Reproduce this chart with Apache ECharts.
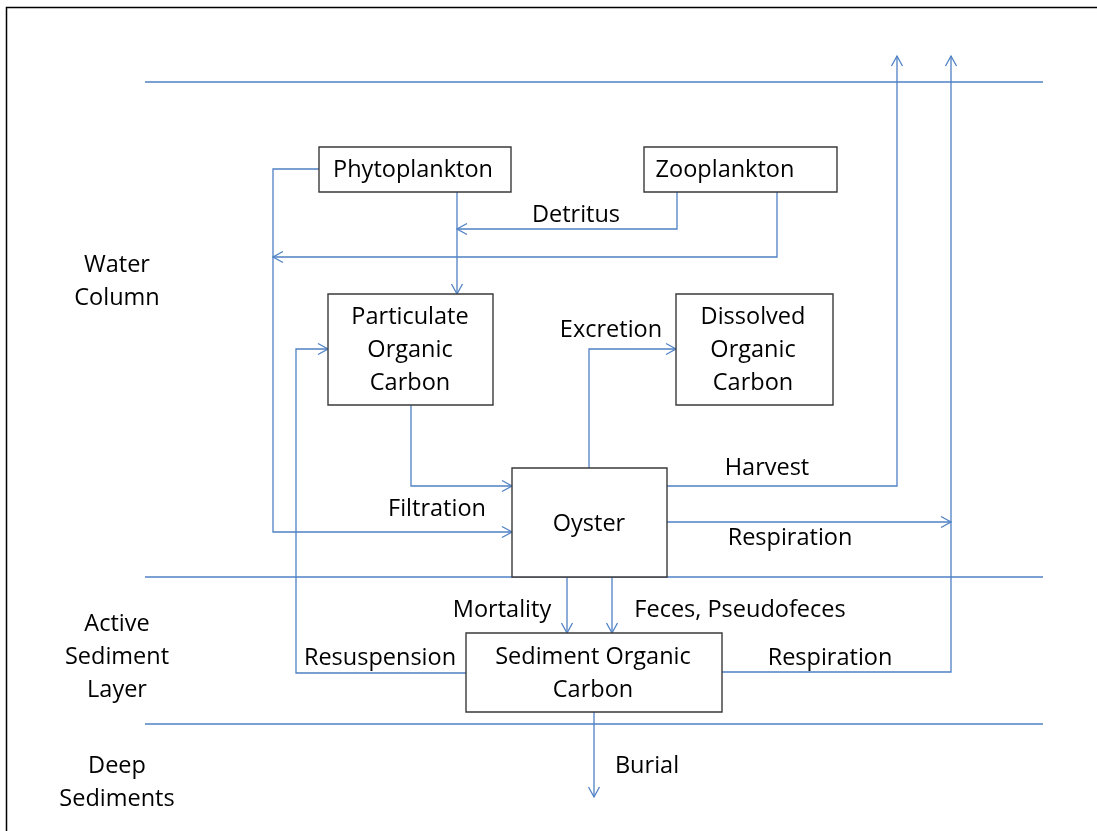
<!DOCTYPE html>
<html>
<head>
<meta charset="utf-8">
<script src="https://cdn.jsdelivr.net/npm/echarts@6/dist/echarts.min.js"></script>
<style>
  html, body { margin: 0; padding: 0; background: #fff; }
  #chart { width: 1097px; height: 831px; }
</style>
</head>
<body>
<div id="chart"></div>
<script>
// compartments: label, [x0, y0, x1, y1] in picture units, text centre
const boxLabels = ['Phytoplankton', 'Zooplankton', 'Particulate\nOrganic\nCarbon', 'Dissolved\nOrganic\nCarbon', 'Oyster', 'Sediment Organic\nCarbon'];
const boxCorners = [[319, 147, 511, 192], [644, 147, 837, 192], [328, 294, 493, 405], [676, 294, 833, 405], [512, 468, 667, 577], [466, 633, 722, 712]];
const boxTextAt = [[413, 170], [725, 170], [410, 350], [753, 350], [589, 524], [593, 674]];

// flows between compartments (polyline vertices, arrow at the last one)
const flowPaths = [
    [[319, 169], [273, 169], [273, 532], [512, 532]],
    [[777, 192], [777, 257], [273, 257]],
    [[677, 192], [677, 229], [457, 229]],
    [[457, 192], [457, 294]],
    [[411, 405], [411, 486], [512, 486]],
    [[589, 468], [589, 349], [676, 349]],
    [[667, 486], [897, 486], [897, 56]],
    [[667, 522], [951, 522]],
    [[722, 672], [951, 672], [951, 56]],
    [[567, 577], [567, 633]],
    [[612, 577], [612, 633]],
    [[466, 673], [296, 673], [296, 349], [328, 349]],
    [[594, 712], [594, 797]]
];
const flowLabels = ['Detritus', 'Excretion', 'Harvest', 'Filtration', 'Respiration', 'Mortality', 'Feces, Pseudofeces', 'Resuspension', 'Respiration', 'Burial'];
const flowLabelAt = [[576, 215], [611, 330], [767, 468], [437, 509], [790, 538], [502, 610], [740, 610], [380, 658], [830, 658], [647, 766]];

// layer boundaries and names
const layerLineY = [82, 577, 724];
const layerSpan = [145, 1043];
const layerLabels = ['Water\nColumn', 'Active\nSediment\nLayer', 'Deep\nSediments'];
const layerLabelAt = [[117, 282], [117, 657], [117, 783]];

const LINE = '#4f81c4';
const FONT = '"Open Sans"';
const FS = 23.5;

const chart = echarts.init(document.getElementById('chart'));

const textItem = (api, txt, p) => {
    const c = api.coord(p);
    return {
        type: 'text',
        style: {
            text: txt, x: c[0], y: c[1],
            align: 'center', verticalAlign: 'middle',
            font: FS + 'px ' + FONT, lineHeight: 33, fill: '#000'
        }
    };
};

const option = {
    animation: false,
    backgroundColor: '#fff',
    grid: { left: 0, right: 0, top: 0, bottom: 0 },
    xAxis: { type: 'value', min: 0, max: 1097, show: false },
    yAxis: { type: 'value', min: 0, max: 831, inverse: true, show: false },
    graphic: [{
        type: 'rect', shape: { x: 6.5, y: 7.5, width: 1200, height: 900 },
        style: { fill: 'none', stroke: '#000', lineWidth: 1.5 }, silent: true
    }],
    series: [
        {
            // layer boundaries
            type: 'custom',
            coordinateSystem: 'cartesian2d',
            data: layerLineY.map((y) => [layerSpan[0], y]),
            renderItem: (params, api) => {
                const y = layerLineY[params.dataIndex];
                const a = api.coord([layerSpan[0], y]);
                const b = api.coord([layerSpan[1], y]);
                return {
                    type: 'line',
                    shape: { x1: a[0], y1: a[1], x2: b[0], y2: b[1] },
                    style: { stroke: LINE, lineWidth: 1.3 }
                };
            }
        },
        {
            // flows
            type: 'custom',
            coordinateSystem: 'cartesian2d',
            data: flowPaths.map((p) => p[0]),
            renderItem: (params, api) => {
                const pts = flowPaths[params.dataIndex].map((p) => api.coord(p));
                const n = pts.length;
                const tip = pts[n - 1], prev = pts[n - 2];
                const len = Math.hypot(tip[0] - prev[0], tip[1] - prev[1]);
                const ux = (tip[0] - prev[0]) / len, uy = (tip[1] - prev[1]) / len;
                const L = 10, W = 5.5;
                const head = [
                    [tip[0] - ux * L - uy * W, tip[1] - uy * L + ux * W],
                    tip,
                    [tip[0] - ux * L + uy * W, tip[1] - uy * L - ux * W]
                ];
                return {
                    type: 'group',
                    children: [
                        { type: 'polyline', shape: { points: pts }, style: { stroke: LINE, lineWidth: 1.3, fill: null } },
                        { type: 'polyline', shape: { points: head }, style: { stroke: LINE, lineWidth: 1.3, fill: null } }
                    ]
                };
            }
        },
        {
            // compartments
            type: 'custom',
            coordinateSystem: 'cartesian2d',
            data: boxCorners.map((b) => [b[0], b[1]]),
            renderItem: (params, api) => {
                const b = boxCorners[params.dataIndex];
                const p0 = api.coord([b[0], b[1]]);
                const p1 = api.coord([b[2], b[3]]);
                return {
                    type: 'group',
                    children: [
                        {
                            type: 'rect',
                            shape: { x: p0[0], y: p0[1], width: p1[0] - p0[0], height: p1[1] - p0[1] },
                            style: { fill: '#fff', stroke: '#3a3a3a', lineWidth: 1.4 }
                        },
                        textItem(api, boxLabels[params.dataIndex], boxTextAt[params.dataIndex])
                    ]
                };
            }
        },
        {
            // flow names
            type: 'custom',
            coordinateSystem: 'cartesian2d',
            data: flowLabelAt,
            renderItem: (params, api) => textItem(api, flowLabels[params.dataIndex], flowLabelAt[params.dataIndex])
        },
        {
            // layer names
            type: 'custom',
            coordinateSystem: 'cartesian2d',
            data: layerLabelAt,
            renderItem: (params, api) => textItem(api, layerLabels[params.dataIndex], layerLabelAt[params.dataIndex])
        }
    ]
};

chart.setOption(option);
</script>
</body>
</html>
